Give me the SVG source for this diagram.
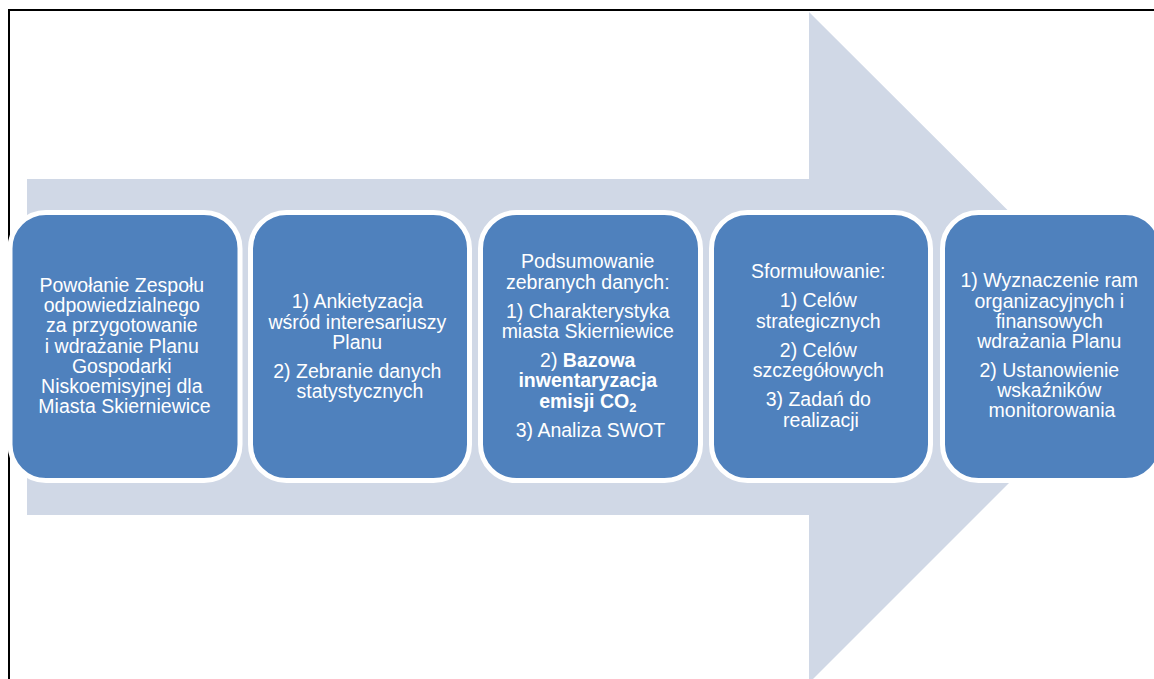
<svg xmlns="http://www.w3.org/2000/svg" width="1154" height="679" viewBox="0 0 1154 679">
<style>
.box{fill:#4F81BD;stroke:#FFFFFF;stroke-width:5}
.t{font-family:"Liberation Sans",Arial,sans-serif;font-size:19.5px;fill:#FFFFFF;text-anchor:middle}
.b{font-weight:bold}
</style>
<rect width="1154" height="679" fill="#FFFFFF"/>
<g id="arrow">
<polygon points="27,179 809,179 809,12 1145,347 809,683 809,515 27,515" fill="#D0D8E6"/>
</g>
<g id="frame">
<path d="M9,679 V10 H1154" fill="none" stroke="#000000" stroke-width="2"/>
</g>
<g id="connectors"></g>
<g id="node1">
<rect class="box" x="10" y="212.5" width="230" height="268" rx="36"/>
<text class="t" x="124.5">
<tspan x="124.5" y="292">Powołanie Zespołu</tspan>
<tspan x="124.5" y="312.2">odpowiedzialnego</tspan>
<tspan x="124.5" y="332.4">za przygotowanie</tspan>
<tspan x="124.5" y="352.6">i wdrażanie Planu</tspan>
<tspan x="124.5" y="372.8">Gospodarki</tspan>
<tspan x="124.5" y="393">Niskoemisyjnej dla</tspan>
<tspan x="124.5" y="413.2">Miasta Skierniewice</tspan>
</text>
</g>
<g id="node2">
<rect class="box" x="250.5" y="212.5" width="219" height="268" rx="36"/>
<text class="t">
<tspan x="360" y="308">1) Ankietyzacja</tspan>
<tspan x="360" y="328.5">wśród interesariuszy</tspan>
<tspan x="360" y="349">Planu</tspan>
<tspan x="360" y="378">2) Zebranie danych</tspan>
<tspan x="360" y="398">statystycznych</tspan>
</text>
</g>
<g id="node3">
<rect class="box" x="480.5" y="212.5" width="220" height="268" rx="36"/>
<text class="t">
<tspan x="590.5" y="268">Podsumowanie</tspan>
<tspan x="590.5" y="288.5">zebranych danych:</tspan>
<tspan x="590.5" y="317.5">1) Charakterystyka</tspan>
<tspan x="590.5" y="338">miasta Skierniewice</tspan>
<tspan x="590.5" y="367">2) <tspan class="b">Bazowa</tspan></tspan>
<tspan x="590.5" y="387" class="b">inwentaryzacja</tspan>
<tspan x="590.5" y="407.5" class="b">emisji CO<tspan font-size="13" dy="4">2</tspan></tspan>
<tspan x="590.5" y="436.5">3) Analiza SWOT</tspan>
</text>
</g>
<g id="node4">
<rect class="box" x="711.5" y="212.5" width="219" height="268" rx="36"/>
<text class="t">
<tspan x="821" y="278">Sformułowanie:</tspan>
<tspan x="821" y="307">1) Celów</tspan>
<tspan x="821" y="327.5">strategicznych</tspan>
<tspan x="821" y="357">2) Celów</tspan>
<tspan x="821" y="377">szczegółowych</tspan>
<tspan x="821" y="406">3) Zadań do</tspan>
<tspan x="821" y="426.5">realizacji</tspan>
</text>
</g>
<g id="node5">
<rect class="box" x="942.5" y="212.5" width="219" height="268" rx="36"/>
<text class="t">
<tspan x="1052" y="287">1) Wyznaczenie ram</tspan>
<tspan x="1052" y="307.5">organizacyjnych i</tspan>
<tspan x="1052" y="328">finansowych</tspan>
<tspan x="1052" y="348">wdrażania Planu</tspan>
<tspan x="1052" y="377">2) Ustanowienie</tspan>
<tspan x="1052" y="397">wskaźników</tspan>
<tspan x="1052" y="417">monitorowania</tspan>
</text>
</g>
</svg>
